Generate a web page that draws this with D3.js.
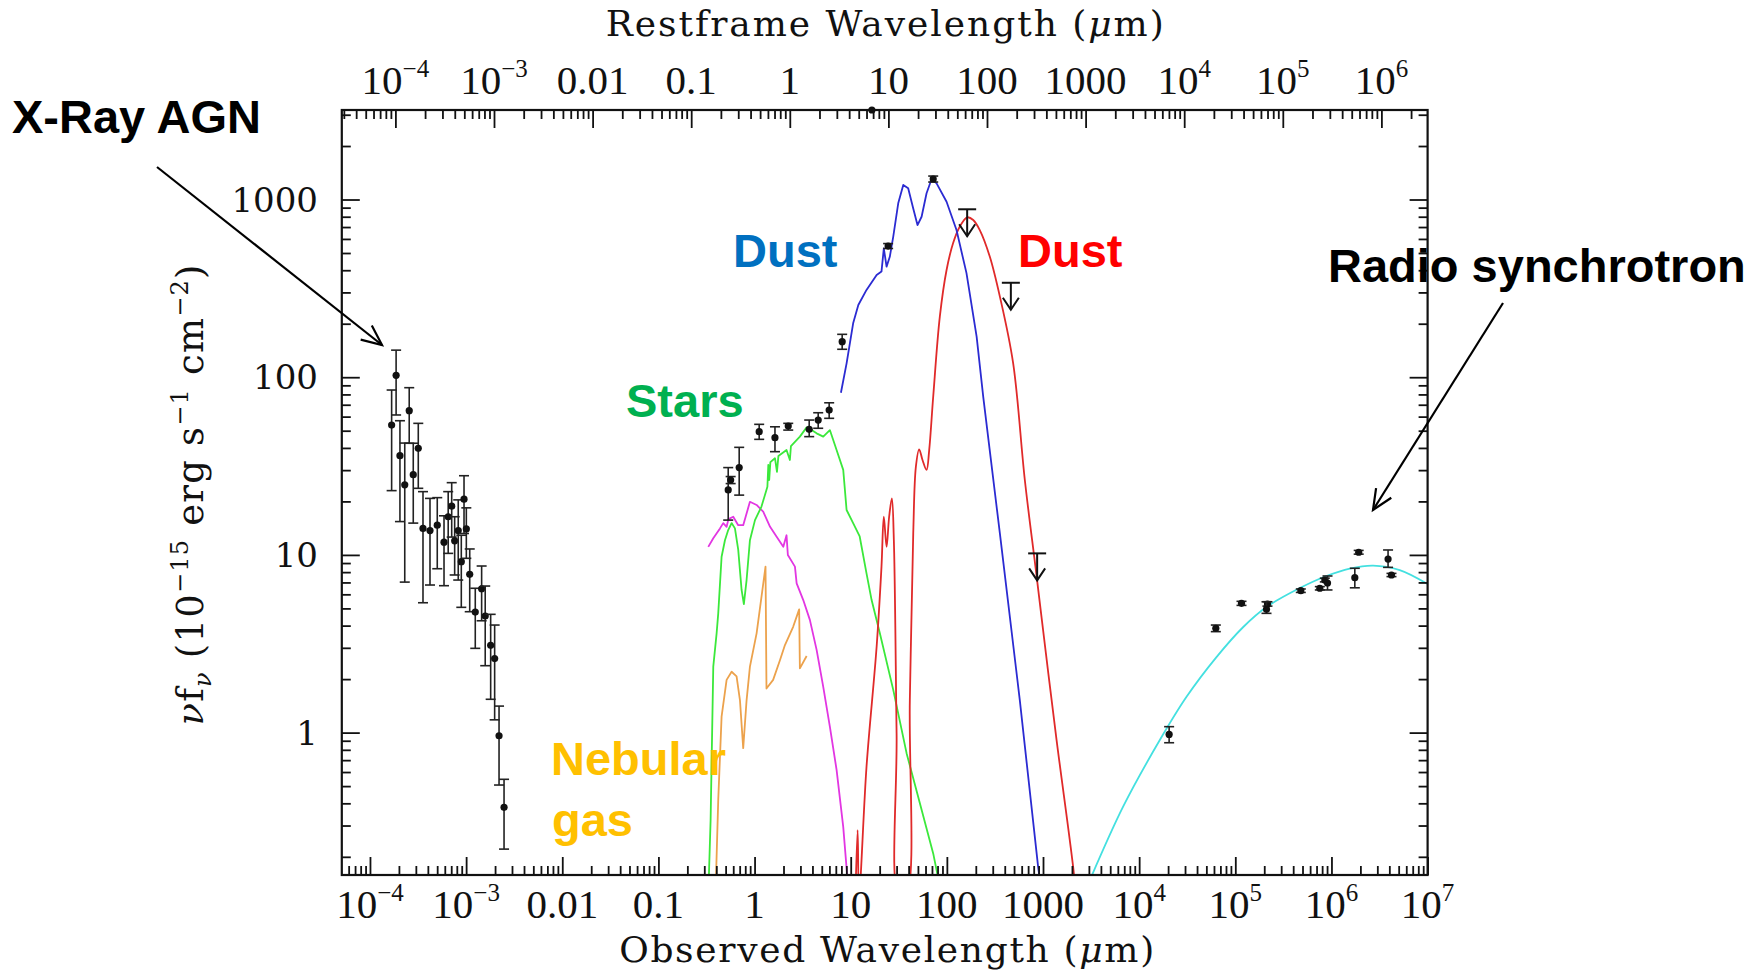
<!DOCTYPE html>
<html>
<head>
<meta charset="utf-8">
<script src="https://cdn.jsdelivr.net/npm/d3@7"></script>
<style>
  html, body { margin: 0; padding: 0; background: #fff; }
  svg { display: block; }
  text { white-space: pre; }
</style>
</head>
<body>
<svg id="chart" width="1762" height="972"></svg>
<script>
// ---------------- tick labels ----------------
const obsTicks = [1e-4, 1e-3, 1e-2, 1e-1, 1, 10, 100, 1000, 1e4, 1e5, 1e6, 1e7];
const obsTickText = ["10^\u22124", "10^\u22123", "0.01", "0.1", "1", "10", "100", "1000", "10^4", "10^5", "10^6", "10^7"];
const restTicks = [1e-4, 1e-3, 1e-2, 1e-1, 1, 10, 100, 1000, 1e4, 1e5, 1e6];
const restTickText = ["10^\u22124", "10^\u22123", "0.01", "0.1", "1", "10", "100", "1000", "10^4", "10^5", "10^6"];
const fluxTicks = [1, 10, 100, 1000];
const fluxTickText = ["1", "10", "100", "1000"];

// ---------------- photometry (wavelength in micron, nu f_nu in 1e-15 cgs) ----------------
const xrayWave = [1.68e-4, 1.87e-4, 2.05e-4, 2.30e-4, 2.56e-4, 2.82e-4, 3.18e-4, 3.56e-4, 4.21e-4, 5.01e-4, 5.89e-4, 6.51e-4, 7.08e-4,
                  7.60e-4, 8.28e-4, 8.91e-4, 9.51e-4, 1.005e-3, 1.09e-3, 1.245e-3, 1.45e-3, 1.58e-3, 1.80e-3, 1.98e-3, 2.20e-3, 2.48e-3];
const xrayFlux = [53.8, 102.5, 36.2, 24.8, 64.8, 28.3, 39.8, 14.1, 13.7, 14.7, 11.8, 16.4, 18.8,
                  12.0, 13.7, 9.16, 20.6, 14.0, 7.78, 4.77, 6.45, 4.53, 3.10, 2.61, 0.96, 0.380];
const xrayLo   = [23.0, 61.3, 15.4, 7.03, 42.5, 15.1, 23.7, 5.38, 6.77, 8.36, 6.71, 10.2, 12.6,
                  7.71, 7.22, 5.07, 13.2, 9.57, 4.79, 2.98, 4.26, 2.38, 1.54, 1.18, 0.507, 0.221];
const xrayHi   = [84.7, 142, 56.9, 42.6, 87.3, 42.5, 55.0, 22.7, 20.8, 21.0, 16.6, 22.7, 25.5,
                  16.4, 20.4, 12.9, 27.9, 18.4, 10.8, 6.49, 8.66, 6.68, 4.63, 4.03, 1.41, 0.546];

const irWave = [0.532, 0.564, 0.692, 1.117, 1.63, 2.24, 3.70, 4.59, 5.97, 8.15, 24.5, 72.1, 16.6];
const irFlux = [23.2, 26.4, 31.0, 49.4, 45.7, 53.1, 50.9, 57.4, 65.3, 158.5, 547, 1304, 3190];
const irLo   = [15.7, 25.2, 21.7, 44.7, 38.1, 50.4, 46.3, 51.6, 58.7, 143.6, 530, 1254, 3190];
const irHi   = [31.0, 27.6, 40.3, 54.3, 52.6, 55.0, 57.4, 63.1, 71.8, 174.3, 565, 1355, 3190];

const limitWave = [162.6, 463, 869];
const limitFlux = [881, 340, 10.2];

const radioWave = [2.05e4, 6.27e4, 1.16e5, 2.16e5, 2.11e5, 4.80e5, 7.57e5, 8.53e5, 9.10e5, 1.75e6, 1.92e6, 3.88e6, 4.21e6];
const radioFlux = [0.977, 3.86, 5.34, 5.29, 4.94, 6.29, 6.49, 7.22, 6.95, 7.45, 10.35, 9.48, 7.71];
const radioLo   = [0.877, 3.70, 5.20, 5.15, 4.69, 6.15, 6.35, 7.05, 6.35, 6.53, 10.1, 8.51, 7.55];
const radioHi   = [1.08, 4.03, 5.48, 5.45, 5.45, 6.43, 6.63, 7.40, 7.61, 8.41, 10.6, 10.66, 7.87];

// ---------------- model components ----------------
const starsWave = [0.330, 0.349, 0.372, 0.403, 0.419, 0.454, 0.492, 0.532, 0.577, 0.625, 0.676, 0.733, 0.774, 0.826, 0.895,
                   1.01, 1.18, 1.36, 1.39, 1.42, 1.46, 1.63, 1.71, 1.77, 2.15, 2.33, 2.39, 2.96, 3.48, 3.92, 4.42, 5.18,
                   6.07, 7.13, 8.36, 9.06, 10.6, 12.4, 14.6, 16.5, 20.1, 27.7, 38.1, 52.4, 72.1, 88.7];
const starsFlux = [0.12, 0.322, 2.35, 3.62, 4.69, 9.77, 12.1, 13.8, 15.1, 14.1, 10.7, 6.35, 5.29, 7.22, 12.1,
                   15.7, 18.7, 24.2, 32.1, 26.4, 33.3, 35.0, 29.3, 36.0, 38.9, 34.2, 41.0, 46.3, 52.2, 50.4, 48.3, 46.3,
                   50.4, 38.9, 30.1, 17.9, 15.1, 12.7, 7.87, 5.57, 3.62, 1.74, 0.766, 0.400, 0.209, 0.12];

const hotWave = [0.330, 0.372, 0.437, 0.472, 0.512, 0.535, 0.600, 0.676, 0.762, 0.895, 1.05, 1.23, 1.45, 1.69,
                 1.99, 2.15, 2.22, 2.63, 2.74, 3.21, 3.76, 4.42, 5.18, 6.07, 7.13, 8.36, 9.57];
const hotFlux = [11.1, 12.4, 14.1, 15.1, 14.4, 15.9, 16.4, 14.7, 14.7, 19.9, 19.1, 17.5, 14.4, 12.7,
                 11.1, 12.9, 9.98, 8.59, 6.92, 5.57, 4.31, 2.92, 1.81, 1.08, 0.617, 0.295, 0.12];

const nebularWave = [0.392, 0.419, 0.454, 0.512, 0.577, 0.650, 0.705, 0.762, 0.826, 0.895, 1.05, 1.30, 1.33,
                     1.56, 1.84, 2.07, 2.52, 2.91, 2.96, 3.48];
const nebularFlux = [0.12, 0.418, 1.23, 1.98, 2.20, 2.07, 1.52, 0.817, 1.52, 2.35, 3.62, 8.59, 1.77,
                     1.98, 2.56, 3.11, 3.94, 4.94, 2.30, 2.70];

const warmDustWave = [7.91, 9.06, 10.6, 12.0, 14.6, 18.6, 20.9, 22.1, 23.6, 25.5, 27.7, 31.2, 35.2, 39.6, 44.7,
                      49.5, 54.6, 61.5, 69.3, 78.2, 99.3, 126, 160, 204, 239, 356, 574, 889, 973];
const warmDustFlux = [81.8, 119.7, 201, 255, 310, 376, 393, 531, 419, 476, 618, 952, 1208, 1156, 891,
                      718, 800, 1084, 1300, 1233, 972, 673, 385, 169, 77.6, 13.2, 1.52, 0.176, 0.122];

const coldDustWave = [11.2, 11.8, 12.2, 14.6, 18.6, 20.9, 22.1, 23.6, 25.1, 26.8, 28.1, 30.0, 31.7,
                      37.5, 41.2, 44.7, 47.6, 51.5, 55.8, 61.5, 65.5, 72.1, 84.5, 99.3, 116, 136, 163, 188, 220,
                      280, 356, 489, 647, 851, 1072, 1384, 2056, 2193];
const coldDustFlux = [0.12, 0.283, 0.12, 0.643, 3.04, 8.59, 16.4, 11.1, 16.4, 20.8, 12.1, 0.991, 0.12,
                      0.12, 1.52, 13.2, 31.3, 39.3, 34.2, 30.1, 38.9, 77.6, 219, 401, 567, 703, 794, 767, 673,
                      476, 284, 120, 26.4, 7.87, 2.79, 0.908, 0.176, 0.122];

const synchWave = [2924, 6810, 16400, 31100, 63700, 121000, 211000, 469000, 887000, 1.55e6, 2.71e6, 5.13e6, 1.0e7];
const synchFlux = [0.139, 0.383, 0.908, 1.59, 2.66, 3.93, 5.09, 6.51, 7.61, 8.38, 8.71, 8.22, 6.86];

// ---------------- scales ----------------
const frame = { left: 341.8, right: 1427.6, top: 110, bottom: 875 };
const x = d3.scaleLog().domain([Math.pow(10, -4.293), 1e7]).range([frame.left, frame.right]);
const xRest = d3.scaleLog().domain([Math.pow(10, -4.5436), Math.pow(10, 6.4686)]).range([frame.left, frame.right]);
const y = d3.scaleLog().domain([Math.pow(10, -0.8013), Math.pow(10, 3.5037)]).range([frame.bottom, frame.top]);

const svg = d3.select("#chart");
svg.append("rect").attr("width", 1762).attr("height", 972).attr("fill", "#fff");

svg.append("defs").append("clipPath").attr("id", "plotClip")
  .append("rect")
  .attr("x", frame.left).attr("y", frame.top)
  .attr("width", frame.right - frame.left).attr("height", frame.bottom - frame.top);

// ---------------- model curves ----------------
const components = [
  { wave: nebularWave, flux: nebularFlux, color: "#eca24c", curve: d3.curveLinear },
  { wave: hotWave, flux: hotFlux, color: "#e236e2", curve: d3.curveLinear },
  { wave: starsWave, flux: starsFlux, color: "#3be83b", curve: d3.curveLinear },
  { wave: coldDustWave, flux: coldDustFlux, color: "#e02a2a", curve: d3.curveCatmullRom.alpha(0.5) },
  { wave: warmDustWave, flux: warmDustFlux, color: "#2b2bd2", curve: d3.curveLinear },
  { wave: synchWave, flux: synchFlux, color: "#44e0e0", curve: d3.curveCatmullRom.alpha(0.5) }
];

const curveLayer = svg.append("g").attr("clip-path", "url(#plotClip)");
components.forEach(c => {
  const pts = c.wave.map((w, i) => [w, c.flux[i]]);
  curveLayer.append("path")
    .attr("d", d3.line().x(d => x(d[0])).y(d => y(d[1])).curve(c.curve)(pts))
    .attr("fill", "none")
    .attr("stroke", c.color)
    .attr("stroke-width", 1.8)
    .attr("stroke-linejoin", "round");
});

// ---------------- data points with error bars ----------------
const pointLayer = svg.append("g");
function drawPoints(wave, flux, lo, hi) {
  const capHalf = 5;
  wave.forEach((w, i) => {
    const cx = x(w);
    if (hi[i] > lo[i]) {
      const yTop = y(hi[i]), yBot = y(lo[i]);
      pointLayer.append("line").attr("x1", cx).attr("x2", cx).attr("y1", yTop).attr("y2", yBot);
      pointLayer.append("line").attr("x1", cx - capHalf).attr("x2", cx + capHalf).attr("y1", yTop).attr("y2", yTop);
      pointLayer.append("line").attr("x1", cx - capHalf).attr("x2", cx + capHalf).attr("y1", yBot).attr("y2", yBot);
    }
    pointLayer.append("circle").attr("cx", cx).attr("cy", y(flux[i])).attr("r", 3.6).attr("fill", "#111");
  });
}
drawPoints(xrayWave, xrayFlux, xrayLo, xrayHi);
drawPoints(irWave, irFlux, irLo, irHi);
drawPoints(radioWave, radioFlux, radioLo, radioHi);
pointLayer.selectAll("line").attr("stroke", "#222").attr("stroke-width", 1.6);

// upper limits: bar at the limit, arrow pointing down
const limitLayer = svg.append("g").attr("stroke", "#111").attr("stroke-width", 2).attr("fill", "none");
limitWave.forEach((w, i) => {
  const cx = x(w), cy = y(limitFlux[i]);
  limitLayer.append("line").attr("x1", cx - 9).attr("x2", cx + 9).attr("y1", cy).attr("y2", cy);
  limitLayer.append("line").attr("x1", cx).attr("x2", cx).attr("y1", cy).attr("y2", cy + 27);
  limitLayer.append("path").attr("d", `M${cx - 8},${cy + 15} L${cx},${cy + 27} L${cx + 8},${cy + 15}`);
});

// ---------------- frame and ticks ----------------
function logTicks(domain) {
  const lo = Math.log10(domain[0]) - 1e-9, hi = Math.log10(domain[1]) + 1e-9;
  const major = [], minor = [];
  for (let n = Math.floor(lo); n <= Math.ceil(hi); n++) {
    if (n >= lo && n <= hi) major.push(Math.pow(10, n));
    for (let k = 2; k <= 9; k++) {
      const v = k * Math.pow(10, n);
      const lv = Math.log10(v);
      if (lv >= lo && lv <= hi) minor.push(v);
    }
  }
  return { major, minor };
}

const axisLayer = svg.append("g");
function tickAxis(axisFn, scale, transform) {
  const t = logTicks(scale.domain());
  [[t.major, -18], [t.minor, -9]].forEach(([vals, size]) => {
    axisLayer.append("g")
      .attr("transform", transform)
      .call(axisFn(scale).tickValues(vals).tickSizeInner(size).tickSizeOuter(0).tickFormat(""))
      .call(g => g.select(".domain").remove())
      .call(g => g.selectAll("line").attr("stroke", "#111").attr("stroke-width", 1.8));
  });
}
tickAxis(d3.axisBottom, x, `translate(0,${frame.bottom})`);
tickAxis(d3.axisTop, xRest, `translate(0,${frame.top})`);
tickAxis(d3.axisLeft, y, `translate(${frame.left},0)`);
tickAxis(d3.axisRight, y, `translate(${frame.right},0)`);

axisLayer.append("rect")
  .attr("x", frame.left).attr("y", frame.top)
  .attr("width", frame.right - frame.left).attr("height", frame.bottom - frame.top)
  .attr("fill", "none").attr("stroke", "#111").attr("stroke-width", 2.2);

// ---------------- tick labels ----------------
const labelLayer = svg.append("g").attr("fill", "#111");
function powerLabel(px, py, label, size, supSize, rise) {
  const parts = label.split("^");
  const t = labelLayer.append("text")
    .attr("x", px).attr("y", py)
    .attr("text-anchor", "middle")
    .attr("font-family", "'Liberation Serif', 'DejaVu Serif', serif")
    .attr("font-size", size);
  t.append("tspan").text(parts[0]);
  if (parts.length > 1) {
    t.append("tspan").attr("dy", -rise).attr("font-size", supSize).text(parts[1]);
  }
}
obsTicks.forEach((v, i) => powerLabel(x(v), 918, obsTickText[i], 41, 25, 17));
restTicks.forEach((v, i) => powerLabel(xRest(v), 94, restTickText[i], 41, 25, 17));

fluxTicks.forEach((v, i) => {
  labelLayer.append("text")
    .attr("x", 318).attr("y", y(v) + 12)
    .attr("text-anchor", "end")
    .attr("font-family", "'DejaVu Serif', serif")
    .attr("font-size", 34)
    .text(fluxTickText[i]);
});

// ---------------- axis titles ----------------
function axisTitle(px, py, before, width) {
  const t = labelLayer.append("text")
    .attr("x", px).attr("y", py)
    .attr("text-anchor", "middle")
    .attr("font-family", "'DejaVu Serif', serif")
    .attr("font-size", 36)
    .attr("textLength", width)
    .attr("lengthAdjust", "spacing");
  t.append("tspan").text(before + " (");
  t.append("tspan").attr("font-style", "italic").text("\u03bc");
  t.append("tspan").text("m)");
}
const plotMidX = (frame.left + frame.right) / 2;
axisTitle(plotMidX, 36, "Restframe Wavelength", 558);
axisTitle(plotMidX + 2, 962, "Observed Wavelength", 535);

const yTitle = labelLayer.append("text")
  .attr("transform", "translate(203,495) rotate(-90)")
  .attr("text-anchor", "middle")
  .attr("font-family", "'DejaVu Serif', serif")
  .attr("font-size", 37)
  .attr("textLength", 461)
  .attr("lengthAdjust", "spacing");
yTitle.append("tspan").attr("font-style", "italic").text("\u03bd");
yTitle.append("tspan").text("f");
yTitle.append("tspan").attr("font-size", 24).attr("dy", 8).attr("font-style", "italic").text("\u03bd");
yTitle.append("tspan").attr("dy", -8).text(" (10");
yTitle.append("tspan").attr("font-size", 24).attr("dy", -15).text("\u221215");
yTitle.append("tspan").attr("dy", 15).text(" erg s");
yTitle.append("tspan").attr("font-size", 24).attr("dy", -15).text("\u22121");
yTitle.append("tspan").attr("dy", 15).text(" cm");
yTitle.append("tspan").attr("font-size", 24).attr("dy", -15).text("\u22122");
yTitle.append("tspan").attr("dy", 15).text(")");

// ---------------- component annotations ----------------
const notes = [
  { text: "X-Ray AGN", x: 12, y: 133, color: "#000000" },
  { text: "Dust", x: 733, y: 267, color: "#0070C0" },
  { text: "Dust", x: 1018, y: 267, color: "#FF0000" },
  { text: "Stars", x: 626, y: 417, color: "#00B050" },
  { text: "Nebular", x: 551, y: 775, color: "#FFC000" },
  { text: "gas", x: 552, y: 836, color: "#FFC000" },
  { text: "Radio synchrotron", x: 1328, y: 282, color: "#000000" }
];
const noteLayer = svg.append("g");
notes.forEach(n => {
  noteLayer.append("text")
    .attr("x", n.x).attr("y", n.y)
    .attr("font-family", "'Liberation Sans', Arial, sans-serif")
    .attr("font-weight", "bold")
    .attr("font-size", 47)
    .attr("fill", n.color)
    .text(n.text);
});

function arrow(x1, y1, x2, y2) {
  const g = noteLayer.append("g").attr("stroke", "#000").attr("stroke-width", 2.2).attr("fill", "none");
  g.append("line").attr("x1", x1).attr("y1", y1).attr("x2", x2).attr("y2", y2);
  const ang = Math.atan2(y2 - y1, x2 - x1), len = 22, spread = 0.42;
  const a1 = ang + Math.PI - spread, a2 = ang + Math.PI + spread;
  g.append("path").attr("d",
    `M${x2 + len * Math.cos(a1)},${y2 + len * Math.sin(a1)} L${x2},${y2} L${x2 + len * Math.cos(a2)},${y2 + len * Math.sin(a2)}`);
}
arrow(157, 167, 382, 345);
arrow(1503, 303, 1373, 510);
</script>
</body>
</html>
